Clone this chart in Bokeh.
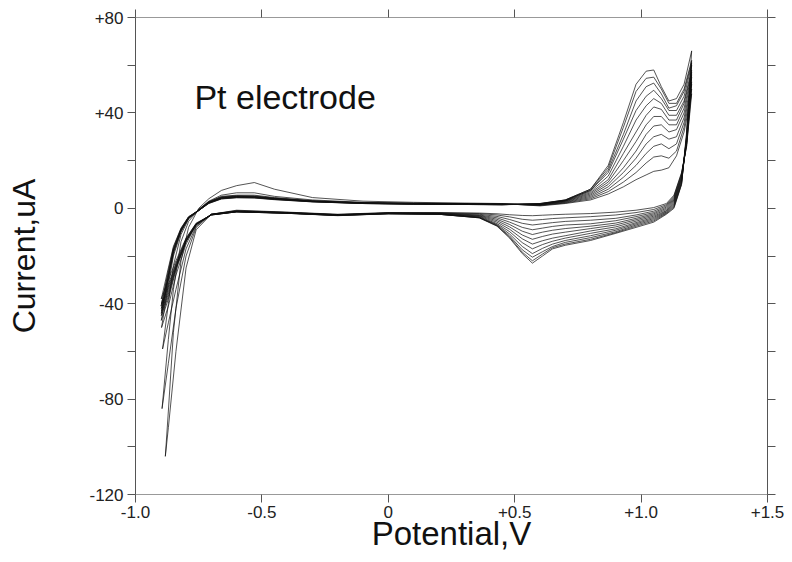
from bokeh.plotting import figure
from bokeh.models import LinearAxis, FixedTicker, Range1d, Label
from bokeh.embed import file_html
from bokeh.resources import INLINE

# ---------------- data ----------------
X_TICKS = [-1.0, -0.5, 0.0, 0.5, 1.0, 1.5]
X_TICK_LABELS = ["-1.0", "-0.5", "0", "+0.5", "+1.0", "+1.5"]
Y_TICKS = [-120, -80, -40, 0, 40, 80]
Y_TICK_LABELS = ["-120", "-80", "-40", "0", "+40", "+80"]
Y_MINOR = [-100, -60, -20, 20, 60]

# potential grid of the anodic (forward) sweep and of the cathodic (reverse) sweep, V
E_FWD = [-0.87, -0.85, -0.82, -0.79, -0.75, -0.71, -0.66, -0.60, -0.53, -0.45,
         -0.30, -0.10, 0.10, 0.30, 0.45, 0.60, 0.70, 0.80, 0.87, 0.93,
         0.98, 1.02, 1.05, 1.08, 1.11, 1.14, 1.17, 1.20]
E_REV = [1.18, 1.16, 1.13, 1.10, 1.05, 0.98, 0.90, 0.80, 0.70, 0.65,
         0.61, 0.57, 0.53, 0.48, 0.43, 0.36, 0.20, 0.0, -0.20, -0.40,
         -0.60, -0.70, -0.76, -0.80, -0.84, -0.87]

# negative vertex of each cycle (potential V, current uA)
TIP_E = [-0.882, -0.895, -0.893, -0.897, -0.898, -0.898, -0.897, -0.898, -0.899, -0.898, -0.897, -0.898]
TIP_I = [-104, -84, -59, -50, -47, -45, -43, -44, -41, -42, -40, -38]

# anodic sweep currents, uA
fwd_c01 = [-85, -52, -22, -8, 0, 4, 7.5, 9.5, 10.8, 8, 4.5, 3, 2.5, 2.2, 2.0, 1.0, 2.0, 3.5, 6, 9, 12, 14, 15.5, 16, 17, 22, 32, 48]
fwd_c02 = [-55, -34, -14, -5.5, -0.5, 3, 5.5, 6.5, 6.5, 5, 3.5, 2.5, 2.2, 2.0, 1.9, 1.2, 2.2, 4, 7, 11, 15, 19, 21.5, 22, 21, 24, 34, 50]
fwd_c03 = [-40, -24, -11, -4.5, -0.5, 2.8, 5, 5.5, 5.5, 4.5, 3.2, 2.4, 2.1, 1.9, 1.8, 1.3, 2.4, 4.5, 8, 13, 18, 23, 26, 27, 25, 27, 36, 52]
fwd_c04 = [-32, -20, -10, -4.2, -0.6, 2.7, 4.8, 5.3, 5.2, 4.3, 3.1, 2.3, 2.0, 1.9, 1.8, 1.4, 2.6, 5, 9, 15, 21, 27, 30, 31, 29, 30, 38, 53]
fwd_c05 = [-30, -19, -9.5, -4, -0.8, 2.6, 4.6, 5.1, 5.0, 4.2, 3.0, 2.3, 2.0, 1.8, 1.7, 1.5, 2.8, 5.5, 10, 17, 24, 31, 34.5, 35, 32, 33, 40, 55]
fwd_c06 = [-29, -18, -9, -3.8, -0.7, 2.5, 4.5, 5.0, 4.9, 4.1, 3.0, 2.2, 1.9, 1.8, 1.7, 1.6, 3.0, 6, 11, 20, 28, 35, 38.5, 38.5, 35, 35, 42, 56]
fwd_c07 = [-28, -17.5, -9, -3.9, -0.9, 2.4, 4.4, 4.9, 4.8, 4.0, 2.9, 2.2, 1.9, 1.8, 1.6, 1.7, 3.1, 6.5, 12, 23, 32, 39, 42.5, 41.5, 37, 37, 44, 57]
fwd_c08 = [-29, -18.5, -9.5, -4.2, -1.0, 2.3, 4.3, 4.8, 4.7, 3.9, 2.9, 2.1, 1.8, 1.7, 1.6, 1.8, 3.2, 7, 13.5, 26, 37, 43, 46, 44, 39, 39, 45, 58]
fwd_c09 = [-27, -17, -8.8, -3.7, -0.8, 2.3, 4.2, 4.7, 4.6, 3.9, 2.8, 2.1, 1.8, 1.7, 1.5, 1.8, 3.3, 7.5, 15, 29, 41, 47, 49.5, 46, 41, 41, 47, 60]
fwd_c10 = [-28, -17.5, -9.2, -4, -1.0, 2.2, 4.1, 4.6, 4.5, 3.8, 2.8, 2.0, 1.8, 1.6, 1.5, 1.9, 3.4, 7.5, 16, 31, 45, 51, 52.5, 48, 42, 43, 49, 61]
fwd_c11 = [-26, -16.5, -8.5, -3.6, -0.9, 2.1, 4.0, 4.5, 4.4, 3.7, 2.7, 2.0, 1.7, 1.6, 1.5, 2.0, 3.5, 8, 17, 34, 49, 54.5, 55, 50, 44, 44, 50, 62]
fwd_c12 = [-25, -16, -8.3, -3.5, -0.9, 2.0, 3.9, 4.4, 4.3, 3.6, 2.7, 2.0, 1.7, 1.6, 1.5, 2.0, 3.5, 8, 18, 36, 52, 57.5, 58, 51, 45, 46, 52, 66]

# cathodic sweep currents, uA
rev_c01 = [26, 15, 5.5, 2.0, 0.3, -0.8, -1.6, -2.2, -2.5, -2.7, -2.9, -3.1, -3.0, -2.7, -2.3, -2.0, -1.8, -1.8, -2.5, -1.6, -0.8, -2.5, -9, -25, -60, -92]
rev_c02 = [26, 14.5, 5, 1.5, -0.5, -1.8, -2.8, -3.5, -4, -4.3, -4.7, -5, -4.6, -3.6, -2.8, -2.2, -1.9, -1.9, -2.6, -1.7, -1.0, -2.5, -8, -20, -42, -65]
rev_c03 = [27, 14, 4.5, 1.0, -1.2, -2.8, -4.2, -5, -5.5, -6, -6.5, -7, -6.3, -4.7, -3.4, -2.5, -2.0, -2.0, -2.7, -1.8, -1.1, -2.5, -7.5, -17, -34, -48]
rev_c04 = [27, 13.5, 4, 0.5, -1.8, -3.5, -5.2, -6.5, -7, -7.6, -8.3, -9, -8, -5.8, -4, -2.8, -2.1, -2.0, -2.7, -1.8, -1.2, -2.5, -7, -15, -28, -41]
rev_c05 = [28, 13, 3.5, 0, -2.3, -4.2, -6.2, -7.5, -8.5, -9.2, -10, -11, -9.6, -6.8, -4.6, -3, -2.2, -2.0, -2.8, -1.9, -1.3, -2.6, -6.8, -14, -26, -38]
rev_c06 = [28, 12.5, 3, -0.5, -2.8, -4.8, -7.0, -8.5, -10, -10.8, -11.8, -13, -11.2, -7.8, -5.2, -3.2, -2.3, -2.1, -2.8, -1.9, -1.3, -2.6, -6.6, -13.5, -25, -37]
rev_c07 = [29, 12, 2.5, -1.0, -3.3, -5.4, -7.8, -9.5, -11.5, -12.5, -13.6, -15, -12.8, -8.8, -5.8, -3.4, -2.4, -2.1, -2.9, -2.0, -1.4, -2.7, -6.8, -13.8, -24.5, -35]
rev_c08 = [29, 11.5, 2, -1.3, -3.8, -6.0, -8.6, -10.5, -12.5, -13.8, -15.2, -17, -14.4, -9.8, -6.4, -3.6, -2.4, -2.2, -2.9, -2.0, -1.4, -2.7, -6.9, -14, -25, -36]
rev_c09 = [30, 11, 1.5, -1.6, -4.3, -6.5, -9.2, -11.5, -13.5, -15, -16.8, -19, -16, -10.8, -6.8, -3.8, -2.5, -2.2, -3.0, -2.0, -1.4, -2.7, -6.5, -13, -23.5, -33]
rev_c10 = [30, 10.5, 1.0, -1.9, -4.8, -7.0, -9.8, -12.3, -14.3, -16, -18.2, -20.5, -17.4, -11.6, -7.1, -3.9, -2.5, -2.3, -3.0, -2.1, -1.5, -2.8, -6.7, -13.5, -24, -34]
rev_c11 = [31, 10, 0.5, -2.2, -5.3, -7.5, -10.2, -13, -15, -16.5, -19.2, -22, -18.4, -12.1, -7.3, -4, -2.5, -2.3, -3.0, -2.1, -1.5, -2.8, -6.4, -12.8, -23, -32]
rev_c12 = [32, 10, 0, -2.5, -5.8, -8.0, -10.5, -13.5, -15.5, -17, -20, -23, -19, -12.5, -7.5, -4, -2.5, -2.3, -3.1, -2.1, -1.5, -2.8, -6.2, -12.5, -22, -30]

FWD = [fwd_c01, fwd_c02, fwd_c03, fwd_c04, fwd_c05, fwd_c06,
       fwd_c07, fwd_c08, fwd_c09, fwd_c10, fwd_c11, fwd_c12]
REV = [rev_c01, rev_c02, rev_c03, rev_c04, rev_c05, rev_c06,
       rev_c07, rev_c08, rev_c09, rev_c10, rev_c11, rev_c12]

# ---------------- figure ----------------
FONT = "Liberation Sans"

p = figure(width=792, height=562, x_range=Range1d(-1.0, 1.5), y_range=Range1d(-120, 80),
           output_backend="svg", toolbar_location=None,
           min_border_left=135, min_border_right=25, min_border_top=17, min_border_bottom=68)
p.xgrid.visible = False
p.ygrid.visible = False
p.outline_line_color = None
p.background_fill_color = "white"
p.border_fill_color = "white"

xs, ys = [], []
for te, ti, f, r in zip(TIP_E, TIP_I, FWD, REV):
    xs.append([te] + E_FWD + E_REV + [te])
    ys.append([ti] + f + r + [ti])
p.multi_line(xs, ys, line_color="#111111", line_width=0.8, line_alpha=0.9)

x_ticker = FixedTicker(ticks=X_TICKS, minor_ticks=[])
y_ticker = FixedTicker(ticks=Y_TICKS, minor_ticks=Y_MINOR)


def style(ax, ticker, line_color, labels=None):
    ax.ticker = ticker
    ax.axis_line_color = line_color
    ax.major_tick_line_color = "#555555"
    ax.minor_tick_line_color = "#555555"
    ax.major_tick_in = 0
    ax.major_tick_out = 8
    ax.minor_tick_in = 0
    ax.minor_tick_out = 8
    if labels is None:
        ax.major_label_text_font_size = "0px"
        ax.major_label_standoff = 0
    else:
        ax.major_label_overrides = labels
        ax.major_label_text_font = FONT
        ax.major_label_text_font_size = "17px"
        ax.major_label_text_color = "#222222"
        ax.major_label_standoff = 4
        ax.axis_label_text_font = FONT
        ax.axis_label_text_font_style = "normal"
        ax.axis_label_text_color = "#111111"


xax = p.xaxis[0]
yax = p.yaxis[0]
style(xax, x_ticker, "#999999", dict(zip(X_TICKS, X_TICK_LABELS)))
style(yax, y_ticker, "#555555", dict(zip(Y_TICKS, Y_TICK_LABELS)))
xax.axis_label = "Potential,V"
xax.axis_label_text_font_size = "33px"
xax.major_label_standoff = 3
xax.axis_label_standoff = -6
yax.axis_label = "Current,uA"
yax.axis_label_text_font_size = "32px"
yax.axis_label_standoff = 44

top = LinearAxis()
style(top, FixedTicker(ticks=X_TICKS, minor_ticks=[]), "#999999")
p.add_layout(top, "above")
right = LinearAxis()
style(right, FixedTicker(ticks=Y_TICKS, minor_ticks=Y_MINOR), "#555555")
p.add_layout(right, "right")

p.add_layout(Label(x=-0.767, y=46.6, text="Pt electrode", text_font=FONT,
                   text_font_size="34px", text_color="#111111", text_baseline="alphabetic"))

open("out.html", "w").write(file_html(p, INLINE))
